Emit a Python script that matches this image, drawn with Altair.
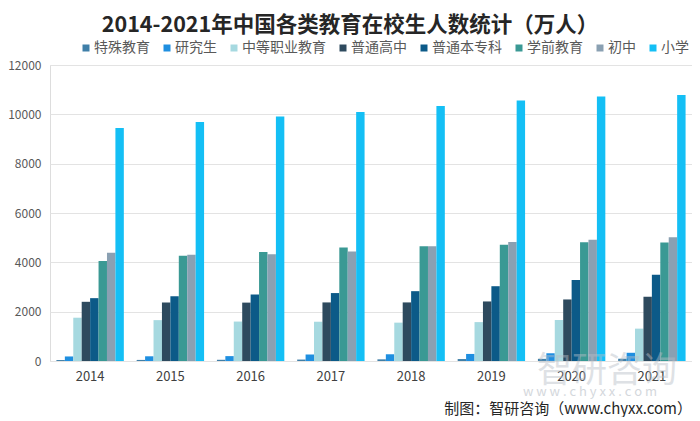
import altair as alt
import pandas as pd

years = ["2014", "2015", "2016", "2017", "2018", "2019", "2020", "2021"]
series = ["特殊教育", "研究生", "中等职业教育", "普通高中", "普通本专科", "学前教育", "初中", "小学"]
colors = ["#3f7fa8", "#1f8fe0", "#a6d9e0", "#2e4a5e", "#0c5a88", "#3a9994", "#8aa0b2", "#14bff5"]

special = [39, 44, 49, 58, 67, 79, 88, 92]
graduate = [184, 191, 198, 264, 273, 286, 314, 333]
vocational = [1755, 1657, 1599, 1592, 1555, 1577, 1663, 1312]
highschool = [2400, 2374, 2367, 2375, 2375, 2414, 2495, 2605]
college = [2548, 2625, 2696, 2754, 2831, 3032, 3285, 3496]
preschool = [4051, 4265, 4414, 4600, 4656, 4714, 4818, 4805]
junior = [4384, 4312, 4329, 4442, 4653, 4827, 4914, 5018]
primary = [9451, 9692, 9913, 10094, 10339, 10561, 10725, 10780]

values = [special, graduate, vocational, highschool, college, preschool, junior, primary]

rows = []
for s, vals in zip(series, values):
    for y, v in zip(years, vals):
        rows.append({"年份": y, "类别": s, "人数": v})
df = pd.DataFrame(rows)

W, H = 642, 296
FONT = "Noto Sans CJK SC"

bars = alt.Chart(df).mark_bar().encode(
    x=alt.X("年份:N", sort=years, title=None,
            scale=alt.Scale(paddingInner=0.16, paddingOuter=0.08),
            axis=alt.Axis(labelAngle=0, labelFontSize=13, labelColor="#404040",
                          labelPadding=9, ticks=False, domain=False, labelFont=FONT)),
    xOffset=alt.XOffset("类别:N", sort=series, scale=alt.Scale(paddingInner=0, paddingOuter=0)),
    y=alt.Y("人数:Q", title=None,
            scale=alt.Scale(domain=[0, 12000], nice=False),
            axis=alt.Axis(values=[0, 2000, 4000, 6000, 8000, 10000, 12000], format="d",
                          labelFontSize=12, labelColor="#595959", labelPadding=9, ticks=False,
                          domain=False, gridColor="#e3e3e3", labelFont=FONT)),
    color=alt.Color("类别:N", sort=series, scale=alt.Scale(domain=series, range=colors),
                    legend=alt.Legend(title=None, orient="none", direction="horizontal",
                                      columns=8, legendX=29, legendY=-24,
                                      symbolType="square", symbolSize=49, symbolStrokeWidth=0,
                                      labelFontSize=14, labelColor="#595959", labelFont=FONT,
                                      columnPadding=10, labelOffset=1)),
)

src_text = ["制图：智研咨询（www.chyxx.com）"]
source = alt.Chart(pd.DataFrame({"t": src_text})).mark_text(
    align="right", baseline="middle", fontSize=15, color="#262626", font=FONT
).encode(x=alt.value(W), y=alt.value(H + 48), text="t:N")

wm1 = alt.Chart(pd.DataFrame({"t": ["智研咨询"]})).mark_text(
    align="center", baseline="middle", fontSize=35, color="#b8bec6", opacity=0.45, font=FONT
).encode(x=alt.value(557), y=alt.value(H + 10), text="t:N")

wm2 = alt.Chart(pd.DataFrame({"t": ["w w w . c h y x x . c o m"]})).mark_text(
    align="center", baseline="middle", fontSize=13, color="#b8bec6", opacity=0.6, font=FONT
).encode(x=alt.value(540), y=alt.value(H + 31), text="t:N")

chart = alt.layer(bars, wm1, wm2, source).properties(
    width=W, height=H,
    title=alt.Title("2014-2021年中国各类教育在校生人数统计（万人）", fontSize=21.5, fontWeight="bold",
                    color="#262626", font=FONT, anchor="middle", dx=-21, offset=5),
    autosize=alt.AutoSizeParams(type="none"),
    padding={"left": 42, "top": 57, "right": 0, "bottom": 56},
).configure_view(stroke=None).configure(background="white")

chart.save("out.html", embed_options={"renderer": "svg", "actions": False})
